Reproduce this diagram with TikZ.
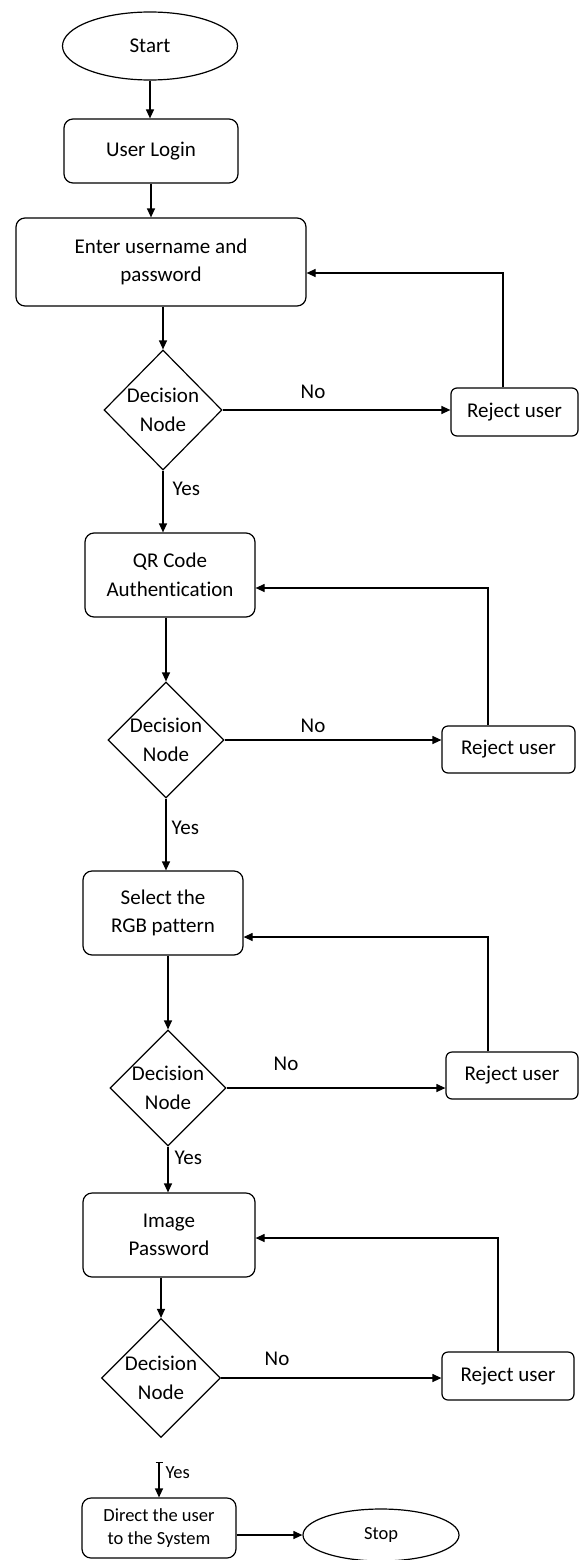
\documentclass[tikz,border=0pt]{standalone}
\usepackage{fontspec}
\setmainfont[Ligatures=NoCommon]{Carlito}
\usetikzlibrary{shapes.geometric,arrows.meta}
\newcommand{\bigfs}{\fontsize{21}{28.5}\selectfont}
\newcommand{\smallfs}{\fontsize{18.5}{23}\selectfont}
\begin{document}
\begin{tikzpicture}[x=1pt,y=-1pt,
  line width=1.2pt,
  box/.style={draw, rounded corners=9pt, align=center, font=\bigfs, inner sep=0pt},
  term/.style={draw, ellipse, inner sep=0pt, font=\bigfs},
  decide/.style={draw, diamond, inner sep=0pt, align=center, font=\bigfs},
  reject/.style={draw, rounded corners=6pt, font=\bigfs, inner sep=0pt},
  arr/.style={-{Triangle[length=9pt,width=8pt]}},
  lbl/.style={font=\bigfs, inner sep=0pt},
]
\useasboundingbox (0,0) rectangle (581,1560);

\node[term, minimum width=175pt, minimum height=68pt] (start) at (150,46) {Start};
\node[box, minimum width=174pt, minimum height=64pt] (login) at (151,151) {User Login};
\node[box, minimum width=290pt, minimum height=88pt] (enter) at (161,262) {Enter username and\\password};
\node[decide, minimum width=118pt, minimum height=120pt] (d1) at (163,410) {Decision\\Node};
\node[reject, minimum width=127pt, minimum height=48pt] (r1) at (514.5,412) {Reject user};

\node[box, minimum width=170pt, minimum height=84pt] (qr) at (170,575) {QR Code\\Authentication};
\node[decide, minimum width=116pt, minimum height=116pt] (d2) at (166,740) {Decision\\Node};
\node[reject, minimum width=133pt, minimum height=47pt] (r2) at (508.5,749.5) {Reject user};

\node[box, minimum width=160pt, minimum height=84pt] (rgb) at (163,913) {Select the\\RGB pattern};
\node[decide, minimum width=116pt, minimum height=116pt] (d3) at (168,1088) {Decision\\Node};
\node[reject, minimum width=132pt, minimum height=47pt] (r3) at (512,1075.5) {Reject user};

\node[box, minimum width=172pt, minimum height=84pt] (img) at (169,1235) {Image\\Password};
\node[decide, minimum width=119pt, minimum height=119pt] (d4) at (161,1378) {Decision\\Node};
\node[reject, minimum width=132pt, minimum height=48pt] (r4) at (508,1376) {Reject user};

\node[box, font=\smallfs, minimum width=154pt, minimum height=60pt] (direct) at (159,1528) {Direct the user\\to the System};
\node[term, font=\smallfs, minimum width=156pt, minimum height=52pt] (stop) at (381,1535) {Stop};

% labels
\node[lbl] (no1) at (313,392) {No};
\node[lbl] (no2) at (313,726) {No};
\node[lbl] (no3) at (286,1064) {No};
\node[lbl] (no4) at (277,1359) {No};
\node[lbl, anchor=west] (yes1) at (172,489) {Yes};
\node[lbl, anchor=west] (yes2) at (171,828) {Yes};
\node[lbl, anchor=west] (yes3) at (174,1158) {Yes};
\node[lbl, font=\smallfs, anchor=west] (yes4) at (165,1473) {Yes};

% main flow
\draw[arr] (start.south) -- (start.south |- login.north);
\draw[arr] (login.south) -- (login.south |- enter.north);
\draw[arr] (d1.north |- enter.south) -- (d1.north);
\draw[arr] (d1.south) -- (d1.south |- qr.north);
\draw[arr] (d2.north |- qr.south) -- (d2.north);
\draw[arr] (d2.south) -- (d2.south |- rgb.north);
\draw[arr] (d3.north |- rgb.south) -- (d3.north);
\draw[arr] (d3.south) -- (d3.south |- img.north);
\draw[arr] (d4.north |- img.south) -- (d4.north);
\coordinate (y4) at (159,1462);
\draw[{Bar[width=7pt]}-{Triangle[length=9pt,width=8pt]}] (y4) -- (y4 |- direct.north);
\draw[arr] (direct.east |- stop.west) -- (stop.west);

% No branches
\draw[arr] (d1.east) -- (d1.east -| r1.west);
\draw[arr] (d2.east) -- (d2.east -| r2.west);
\draw[arr] (d3.east) -- (d3.east -| r3.west);
\draw[arr] (d4.east) -- (d4.east -| r4.west);

% feedback loops
\draw[arr] ([xshift=-11.5pt]r1.north) |- ([yshift=-11pt]enter.east);
\draw[arr] ([xshift=-20.5pt]r2.north) |- ([yshift=-13pt]qr.east);
\draw[arr] ([xshift=-24pt]r3.north) |- ([yshift=-24pt]rgb.east);
\draw[arr] ([xshift=-10pt]r4.north) |- ([yshift=-3pt]img.east);
\end{tikzpicture}
\end{document}
